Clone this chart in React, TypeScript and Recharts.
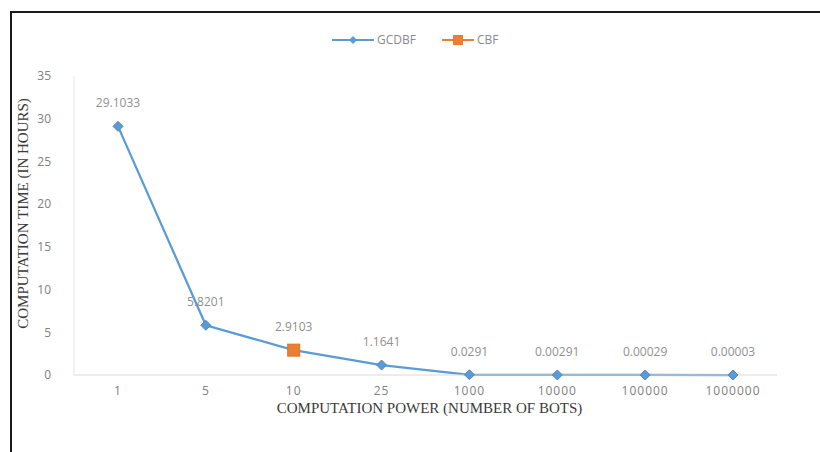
import React from 'react';
import { LineChart, Line, XAxis, YAxis, Legend, LabelList } from 'recharts';

const categories = ['1', '5', '10', '25', '1000', '10000', '100000', '1000000'];
const gcdbfValues = [29.1033, 5.8201, 2.9103, 1.1641, 0.0291, 0.00291, 0.00029, 0.00003];
const cbfValues: (number | null)[] = [null, null, 2.9103, null, null, null, null, null];
const yTicks = [0, 5, 10, 15, 20, 25, 30, 35];

const data = categories.map((c, i) => ({ bots: c, GCDBF: gcdbfValues[i], CBF: cbfValues[i] }));

const BLUE = '#5B9BD5';
const ORANGE = '#ED7D31';
const TICK_FONT = 'Open Sans, sans-serif';
const SERIF = 'Liberation Serif, serif';

const Diamond = (props: any) => {
  const { cx, cy, index } = props;
  if (cx == null || cy == null) return <g key={`d${index}`} />;
  const r = 5;
  return (
    <path
      key={`d${index}`}
      d={`M${cx},${cy - r} L${cx + r},${cy} L${cx},${cy + r} L${cx - r},${cy} Z`}
      fill={BLUE}
      stroke="#4A89C4"
      strokeWidth={1}
    />
  );
};

const Square = (props: any) => {
  const { cx, cy, index, value } = props;
  if (cx == null || cy == null || value == null) return <g key={`s${index}`} />;
  const r = 6;
  return <rect key={`s${index}`} x={cx - r} y={cy - r} width={2 * r} height={2 * r} fill={ORANGE} stroke="#E07020" strokeWidth={1} />;
};

const LegendContent = () => (
  <svg width={200} height={16} style={{ display: 'block', margin: '0 auto' }}>
    <line x1={22} y1={8} x2={64} y2={8} stroke={BLUE} strokeWidth={2} />
    <path d="M43,4 L47,8 L43,12 L39,8 Z" fill={BLUE} />
    <text x={67} y={12} fontSize={12} fontFamily={TICK_FONT} fill="#8a8a8a">GCDBF</text>
    <line x1={132} y1={8} x2={164} y2={8} stroke={ORANGE} strokeWidth={2} />
    <rect x={143} y={3} width={10} height={10} fill={ORANGE} />
    <text x={167} y={12} fontSize={12} fontFamily={TICK_FONT} fill="#8a8a8a">CBF</text>
  </svg>
);

const YLabel = (props: any) => {
  const vb = props.viewBox || {};
  const cy = (vb.y || 0) + (vb.height || 0) / 2 - 12;
  const x = 23;
  return (
    <text x={x} y={cy} transform={`rotate(-90 ${x} ${cy})`} textAnchor="middle" dominantBaseline="central" fontSize={15} fontFamily={SERIF} fill="#3a3a3a">
      COMPUTATION TIME (IN HOURS)
    </text>
  );
};

const XLabel = (props: any) => {
  const vb = props.viewBox || {};
  const cx = (vb.x || 0) + (vb.width || 0) / 2 + 4;
  return (
    <text x={cx} y={413} textAnchor="middle" fontSize={15} fontFamily={SERIF} fill="#3a3a3a">
      COMPUTATION POWER (NUMBER OF BOTS)
    </text>
  );
};

export default function App() {
  return (
    <div style={{ position: 'absolute', left: 0, top: 0, width: 820, height: 452, background: '#fff', overflow: 'hidden' }}>
      <div style={{ position: 'absolute', left: 10, top: 11, width: 820, height: 460, borderLeft: '2px solid #1a1a1a', borderTop: '2px solid #1a1a1a' }} />
      <div style={{ position: 'absolute', left: 0, top: 0 }}>
        <LineChart width={820} height={452} data={data} margin={{ top: 60, right: 43, bottom: 27, left: 0 }}>
          <Legend verticalAlign="top" align="center" wrapperStyle={{ top: 32, left: 310, width: 200 }} content={<LegendContent />} />
          <XAxis
            dataKey="bots"
            padding={{ left: 44, right: 44 }}
            height={50}
            tickSize={0}
            tickMargin={11}
            tick={{ fontSize: 12, fontFamily: TICK_FONT, fill: '#808080', letterSpacing: 1 }}
            axisLine={{ stroke: '#D9D9D9', strokeWidth: 1 }}
            tickLine={false}
            label={<XLabel />}
          />
          <YAxis
            width={74}
            domain={[0, 35]}
            ticks={yTicks}
            tickSize={0}
            tickMargin={23}
            tick={{ fontSize: 12, fontFamily: TICK_FONT, fill: '#808080' }}
            axisLine={{ stroke: '#E6E6E6', strokeWidth: 1 }}
            tickLine={false}
            label={<YLabel />}
          />
          <Line
            type="linear"
            dataKey="GCDBF"
            stroke={BLUE}
            strokeWidth={2.25}
            dot={(p: any) => <Diamond {...p} />}
            activeDot={false}
            isAnimationActive={false}
          >
            <LabelList
              dataKey="GCDBF"
              position="top"
              offset={19}
              formatter={(v: any) => String(v)}
              style={{ fontSize: 12, fontFamily: TICK_FONT, fill: '#8f8f8f' }}
            />
          </Line>
          <Line
            type="linear"
            dataKey="CBF"
            stroke={ORANGE}
            strokeWidth={2.25}
            dot={(p: any) => <Square {...p} />}
            activeDot={false}
            connectNulls={false}
            isAnimationActive={false}
          />
        </LineChart>
      </div>
    </div>
  );
}
